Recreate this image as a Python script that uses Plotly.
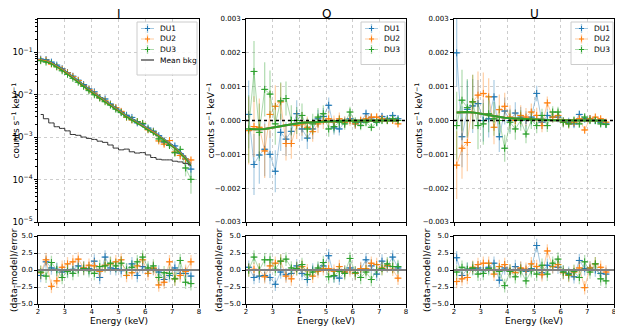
import numpy as np
import plotly.graph_objects as go

# energy bins (keV): centres and half widths
energy = [2.1, 2.3, 2.5, 2.7, 2.9, 3.1, 3.3, 3.5, 3.7, 3.9, 4.1, 4.3, 4.5, 4.7, 4.9,
          5.1, 5.3, 5.5, 5.7, 5.9, 6.1, 6.3, 6.5, 6.7, 6.9, 7.1, 7.3, 7.5, 7.7]
half_width = [0.1] * len(energy)

# --- Stokes I (counts s^-1 keV^-1) ---
I_model_DU1 = [0.0693, 0.0651, 0.0578, 0.0494, 0.0410, 0.0332, 0.0270, 0.0214, 0.0170, 0.0135,
               0.0110, 0.0089, 0.0072, 0.0059, 0.0048, 0.0039, 0.00326, 0.00273, 0.00231, 0.00195,
               0.00163, 0.00135, 0.00112, 0.00091, 0.00075, 0.00059, 0.00045, 0.00034, 0.00023]
I_model_DU2 = [0.066, 0.062, 0.055, 0.047, 0.039, 0.0316, 0.0257, 0.0204, 0.0162, 0.0129,
               0.0105, 0.0085, 0.0069, 0.0056, 0.0046, 0.0037, 0.0031, 0.0026, 0.0022, 0.00186,
               0.00155, 0.00129, 0.00107, 0.00087, 0.00071, 0.00056, 0.00043, 0.00032, 0.00022]
I_model_DU3 = [0.0634, 0.0595, 0.0528, 0.0451, 0.0374, 0.0303, 0.0247, 0.0196, 0.0156, 0.0124,
               0.0101, 0.0082, 0.0066, 0.0054, 0.0044, 0.00355, 0.00298, 0.0025, 0.00211, 0.00179,
               0.00149, 0.00124, 0.00103, 0.00084, 0.00068, 0.00054, 0.00041, 0.00031, 0.00021]
I_DU1 = [0.0682, 0.0667, 0.0581, 0.0495, 0.0407, 0.0331, 0.0271, 0.0218, 0.0172, 0.0136,
         0.0116, 0.00846, 0.00788, 0.00599, 0.00485, 0.00388, 0.00326, 0.00290, 0.00216, 0.00203,
         0.00163, 0.00138, 0.00108, 0.000757, 0.000666, 0.000618, 0.000410, 0.000303, 0.000176]
I_DU2 = [0.0655, 0.0639, 0.0524, 0.0455, 0.0394, 0.0323, 0.0266, 0.0214, 0.0164, 0.0132,
         0.01075, 0.00842, 0.00714, 0.00585, 0.00490, 0.00403, 0.00294, 0.00253, 0.00231, 0.00210,
         0.00148, 0.00133, 0.000811, 0.000682, 0.000829, 0.000444, 0.000368, 0.000306, 0.000289]
I_DU3 = [0.0630, 0.0584, 0.0540, 0.0451, 0.0364, 0.0301, 0.0243, 0.0196, 0.0157, 0.0124,
         0.0099, 0.00838, 0.00680, 0.00567, 0.00455, 0.00376, 0.00298, 0.00257, 0.00231, 0.00208,
         0.00153, 0.00131, 0.000905, 0.000800, 0.000632, 0.000428, 0.000513, 0.000187, 0.000101]
I_relerr = [0.02, 0.02, 0.02, 0.02, 0.025, 0.025, 0.03, 0.03, 0.035, 0.035, 0.04, 0.045, 0.05, 0.05,
            0.055, 0.06, 0.065, 0.07, 0.08, 0.085, 0.09, 0.10, 0.11, 0.12, 0.14, 0.16, 0.18, 0.22, 0.26]
bkg = [3.4e-3, 2.7e-3, 2.15e-3, 1.75e-3, 1.6e-3, 1.4e-3, 1.15e-3, 1.1e-3, 1.0e-3, 9.3e-4,
       8.8e-4, 8.0e-4, 7.5e-4, 6.5e-4, 5.5e-4, 5.0e-4, 5.2e-4, 4.5e-4, 4.2e-4, 4.3e-4,
       3.8e-4, 3.3e-4, 3.0e-4, 2.9e-4, 2.9e-4, 2.7e-4, 2.6e-4, 2.4e-4, 2.2e-4]

# --- Stokes Q and U (units of 1e-3 counts s^-1 keV^-1) ---
Q_DU1 = [0.18, -1.30, -1.02, -0.85, -1.00, -1.50, -0.35, -0.55, -0.32, 0.20, -0.25, -0.52, -0.25, 0.05, 0.12,
         0.45, -0.22, -0.25, -0.05, 0.05, -0.10, -0.05, 0.20, 0.08, -0.05, 0.12, 0.05, 0.15, 0.05]
Q_DU2 = [-0.30, -0.18, -0.20, -0.90, 0.18, 0.42, 0.55, -0.68, -0.68, -0.15, -0.10, -0.20, -0.33, -0.10, 0.00,
         0.05, -0.05, 0.05, -0.05, 0.00, -0.10, 0.00, 0.05, 0.10, 0.10, 0.05, 0.00, 0.00, -0.10]
Q_DU3 = [-0.25, 1.45, -0.35, 0.92, 0.78, -0.10, 0.58, 0.65, 0.00, 0.00, 0.15, -0.25, -0.10, 0.10, 0.20,
         -0.25, -0.18, -0.05, -0.10, 0.25, -0.05, -0.15, -0.05, -0.20, -0.05, 0.00, 0.00, 0.05, 0.00]
Q_model = [-0.25, -0.26, -0.26, -0.25, -0.23, -0.20, -0.17, -0.14, -0.11, -0.09, -0.07, -0.06, -0.05, -0.04, -0.03,
           -0.025, -0.02, -0.015, -0.01, -0.01, -0.005, -0.005, 0, 0, 0, 0, 0, 0, 0]
U_DU1 = [2.00, -0.48, 0.33, 0.43, 0.50, 0.00, 0.05, 0.70, -0.48, 0.28, 0.00, 0.22, 0.10, 0.00, 0.10,
         0.80, -0.05, 0.15, 0.10, 0.10, -0.05, -0.05, -0.10, 0.18, 0.05, 0.05, 0.00, -0.05, -0.10]
U_DU2 = [-1.32, -0.82, -0.65, 0.55, 0.75, 0.80, 0.70, -0.20, 0.32, 0.42, 0.10, 0.00, 0.15, 0.10, 0.25,
         0.15, -0.15, 0.52, 0.10, 0.15, -0.05, -0.10, -0.05, 0.05, -0.28, 0.05, 0.10, 0.05, -0.05]
U_DU3 = [-0.15, 0.60, 0.38, 0.55, -0.15, -0.10, 0.20, 0.05, 0.00, -0.82, -0.05, -0.25, 0.00, -0.40, 0.00,
         -0.15, 0.15, -0.15, 0.25, 0.25, -0.05, -0.10, 0.00, -0.10, 0.10, 0.00, 0.00, -0.10, -0.12]
U_model = [0.24, 0.25, 0.25, 0.24, 0.22, 0.19, 0.16, 0.13, 0.10, 0.08, 0.07, 0.06, 0.05, 0.04, 0.03,
           0.025, 0.02, 0.015, 0.01, 0.01, 0.005, 0.005, 0, 0, 0, 0, 0, 0, 0]
QU_err = [1.0, 0.9, 0.85, 0.8, 0.7, 0.62, 0.55, 0.5, 0.45, 0.4, 0.35, 0.32, 0.3, 0.27, 0.25,
          0.23, 0.2, 0.19, 0.17, 0.16, 0.15, 0.14, 0.13, 0.12, 0.12, 0.11, 0.11, 0.1, 0.1]

# --- residuals (data-model)/error ---
rI_DU1 = [-0.8, 1.2, 0.3, 0.1, -0.3, -0.1, 0.1, 0.6, 0.3, 0.2, 1.3, -1.1, 1.9, 0.3, 0.2,
          -0.1, 0.0, 0.9, -0.8, 0.5, 0.0, 0.2, -0.3, -1.4, -0.8, 0.3, -0.5, -0.5, -0.9]
rI_DU2 = [-0.4, 1.5, -2.4, -1.6, 0.4, 0.9, 1.2, 1.6, 0.3, 0.7, 0.6, -0.2, 0.7, 0.9, 1.2,
          1.5, -0.8, -0.4, 0.6, 1.5, -0.5, 0.3, -2.2, -1.8, 1.2, -1.3, -0.8, -0.2, 1.2]
rI_DU3 = [-0.3, -0.9, 1.1, 0.0, -1.1, -0.2, -0.5, 0.0, 0.2, -0.1, -0.5, 0.5, 0.6, 1.0, 0.6,
          1.0, 0.0, 0.4, 1.2, 1.9, 0.3, 0.6, -1.1, -0.4, -0.5, -1.3, 1.4, -1.8, -2.0]
rQ_DU1 = [0.4, -1.1, -0.9, -0.8, -1.1, -2.1, -0.3, -0.7, -0.5, 0.6, -0.5, -1.4, 0.0, 0.1, 0.6,
          2.1, -0.9, -1.2, -0.3, 0.3, -0.5, 0.1, 1.5, 0.6, -0.6, 1.3, 0.6, 1.9, 0.3]
rQ_DU2 = [0.0, 0.1, 0.0, -1.0, 0.6, 1.0, 1.3, -0.9, -1.3, 0.2, 0.5, -0.1, -0.9, -0.2, 0.2,
          0.2, -0.2, 0.5, -0.3, 0.0, -0.5, 0.2, 0.2, 1.0, 0.8, 0.3, 0.7, 0.1, -1.2]
rQ_DU3 = [0.0, 1.9, 0.0, 1.5, 1.5, 0.1, 1.3, 1.6, 0.3, 0.2, 0.8, -0.7, -0.3, 0.3, 1.1,
          -1.0, -0.8, -0.2, -0.5, 1.7, -0.4, -1.1, -0.3, -1.4, 0.0, 0.2, 0.9, 0.5, 0.5]
rU_DU1 = [1.8, -0.8, 0.1, 0.2, 0.3, -0.1, 0.4, 1.0, -1.5, 0.3, -0.2, 0.5, 0.2, -0.2, 0.2,
          3.6, -0.4, 0.7, 0.5, 0.4, -0.3, -0.5, -1.0, 1.4, 0.2, 0.3, 0.0, -0.5, -0.6]
rU_DU2 = [-1.7, -1.3, -1.1, 0.4, 0.8, 1.0, 1.0, -0.6, 0.5, 0.8, -0.1, -0.4, 0.3, 0.1, 0.9,
          0.5, -0.7, 2.8, 0.5, 0.8, -0.4, -0.8, -0.3, 0.3, -2.6, 0.3, 0.9, 0.4, -0.3]
rU_DU3 = [-0.3, 0.4, 0.1, 0.3, -0.6, -0.5, 0.2, 0.0, -0.2, -2.3, -0.2, -1.0, -0.1, -1.6, -0.1,
          -0.6, 0.7, -0.6, 1.0, 1.6, -0.3, -0.7, -0.2, -1.1, 1.2, -0.3, 0.9, -1.3, -1.6]
resid_err = [1.0] * len(energy)

units = ['DU1', 'DU2', 'DU3']
colors = {'DU1': (31, 119, 180), 'DU2': (255, 127, 14), 'DU3': (44, 160, 44)}


def rgba(c, a):
    return 'rgba(%d,%d,%d,%s)' % (c[0], c[1], c[2], a)


fig = go.Figure()


def add_data(y, err, du, xa, ya):
    c = colors[du]
    fig.add_trace(go.Scatter(
        x=energy, y=y, mode='lines+markers', name=du, showlegend=False,
        line=dict(color=rgba(c, 0.4), width=1),
        marker=dict(symbol='cross-thin', size=5, color=rgba(c, 1), line=dict(width=1, color=rgba(c, 1))),
        error_y=dict(type='data', array=err, color=rgba(c, 0.35), thickness=1.3, width=0),
        error_x=dict(type='data', array=half_width, color=rgba(c, 0.8), thickness=1, width=0),
        xaxis=xa, yaxis=ya))


def add_model(y, du, xa, ya, width):
    fig.add_trace(go.Scatter(x=energy, y=y, mode='lines', showlegend=False,
                             line=dict(color=rgba(colors[du], 1), width=width),
                             xaxis=xa, yaxis=ya, hoverinfo='skip'))


# I panel
I_data = {'DU1': (I_DU1, I_model_DU1), 'DU2': (I_DU2, I_model_DU2), 'DU3': (I_DU3, I_model_DU3)}
for du, (d, m) in I_data.items():
    add_data(d, list(np.array(m) * np.array(I_relerr)), du, 'x', 'y')
for du, (d, m) in I_data.items():
    add_model(m, du, 'x', 'y', 1.3)
fig.add_trace(go.Scatter(x=energy, y=bkg, mode='lines', name='Mean bkg', showlegend=False,
                         line=dict(color='#333333', width=1, shape='hvh'), xaxis='x', yaxis='y'))

# Q and U panels
Q_err = list(np.array(QU_err) * 1e-3)
for du, d in zip(units, [Q_DU1, Q_DU2, Q_DU3]):
    add_data(list(np.array(d) * 1e-3), Q_err, du, 'x2', 'y2')
for du, d in zip(units, [U_DU1, U_DU2, U_DU3]):
    add_data(list(np.array(d) * 1e-3), Q_err, du, 'x3', 'y3')
for du in units:
    add_model(list(np.array(Q_model) * 1e-3), du, 'x2', 'y2', 2)
    add_model(list(np.array(U_model) * 1e-3), du, 'x3', 'y3', 2)

# residual panels
for du, rI, rQ, rU in zip(units, [rI_DU1, rI_DU2, rI_DU3], [rQ_DU1, rQ_DU2, rQ_DU3],
                          [rU_DU1, rU_DU2, rU_DU3]):
    add_data(rI, resid_err, du, 'x4', 'y4')
    add_data(rQ, resid_err, du, 'x5', 'y5')
    add_data(rU, resid_err, du, 'x6', 'y6')

# the page puts the figure 8 px in from the top-left corner of the window
OFF = 8
W, H = 623 - OFF, 332 - OFF


def px(x):
    return (x - OFF) / W


def py(y):
    return 1 - (y - OFF) / H


xdom = [(px(38), px(199)), (px(246), px(406)), (px(454), px(614))]
ydom_main = (py(222), py(19))
ydom_res = (py(304), py(236))

axis_common = dict(showline=True, linecolor='black', linewidth=1, mirror=True, automargin=False,
                   ticks='outside', ticklen=3, tickcolor='black', tickwidth=0.8,
                   showgrid=True, gridcolor='#cdcdcd', griddash='dot', gridwidth=1,
                   zeroline=False, tickfont=dict(size=7, color='black'))

layout = dict(width=W, height=H, margin=dict(l=0, r=0, t=0, b=0, autoexpand=False),
              template='none', plot_bgcolor='white', paper_bgcolor='white',
              font=dict(family='DejaVu Sans', color='black'), showlegend=False)

for i in range(3):
    main_x = 'xaxis' if i == 0 else 'xaxis%d' % (i + 1)
    res_x = 'xaxis%d' % (i + 4)
    layout[main_x] = dict(axis_common, domain=xdom[i], range=[2, 8], dtick=1,
                          showticklabels=False, anchor='y' if i == 0 else 'y%d' % (i + 1))
    layout[res_x] = dict(axis_common, domain=xdom[i], range=[2, 8], dtick=1,
                         ticklabelstandoff=-2, anchor='y%d' % (i + 4))
    layout['yaxis%d' % (i + 4)] = dict(axis_common, domain=ydom_res, range=[-5, 5], dtick=2.5,
                                       tickformat='.1f', anchor='x%d' % (i + 4))

layout['yaxis'] = dict(axis_common, domain=ydom_main, type='log', range=[-5, -0.22], dtick=1,
                       exponentformat='power', anchor='x',
                       minor=dict(ticks='outside', ticklen=2, tickcolor='black', showgrid=False))
for k in (2, 3):
    layout['yaxis%d' % k] = dict(axis_common, domain=ydom_main, range=[-0.003, 0.003], dtick=0.001,
                                 tickformat='.3f', anchor='x%d' % k)

fig.update_layout(**layout)

# zero lines
for k in (2, 3):
    fig.add_shape(type='line', xref='x%d domain' % k, yref='y%d' % k, x0=0, x1=1, y0=0, y1=0,
                  line=dict(color='black', width=1.3, dash='dot'))
for k in (4, 5, 6):
    fig.add_shape(type='line', xref='x%d domain' % k, yref='y%d' % k, x0=0, x1=1, y0=0, y1=0,
                  line=dict(color='#808080', width=2.2))


# legends, drawn in pixel positions of the window
def seg(x0, y0, x1, y1, color, width):
    fig.add_shape(type='line', xref='paper', yref='paper', x0=px(x0), y0=py(y0), x1=px(x1), y1=py(y1),
                  line=dict(color=color, width=width))


def text(s, x, y, size, angle=0, xanchor='center'):
    fig.add_annotation(text=s, x=px(x), y=py(y), xref='paper', yref='paper', showarrow=False,
                       xanchor=xanchor, yanchor='middle', textangle=angle, font=dict(size=size))


def legend(x0, x1, entries):
    n = len(entries)
    fig.add_shape(type='rect', xref='paper', yref='paper', x0=px(x0), x1=px(x1),
                  y0=py(22), y1=py(22 + 11 + 10.5 * n), fillcolor='rgba(255,255,255,0.85)',
                  line=dict(color='#cccccc', width=1))
    for j, name in enumerate(entries):
        yc = 28.5 + 10.5 * j
        lx0, lx1 = x0 + 4, x0 + 17
        xc = (lx0 + lx1) / 2
        if name in colors:
            c = colors[name]
            seg(lx0, yc, lx1, yc, rgba(c, 0.4), 1)
            seg(xc, yc - 4.5, xc, yc + 4.5, rgba(c, 0.4), 1.3)
            seg(xc - 2.5, yc, xc + 2.5, yc, rgba(c, 1), 1)
            seg(xc, yc - 2.5, xc, yc + 2.5, rgba(c, 1), 1)
        else:
            seg(lx0, yc, lx1, yc, '#333333', 1.2)
        text(name, lx1 + 4, yc, 7.5, xanchor='left')


legend(137, 197, units + ['Mean bkg'])
legend(361, 405, units)
legend(571, 613, units)

# titles and axis labels
ylab = 'counts s<sup>\u22121</sup> keV<sup>\u22121</sup>'
for (x0, x1), t in zip([(38, 199), (246, 406), (454, 614)], ['I', 'Q', 'U']):
    text(t, (x0 + x1) / 2, 14, 12)
    text('Energy (keV)', (x0 + x1) / 2, 321, 9)
for xpix in (15, 210, 418):
    text(ylab, xpix, 120.5, 9, angle=-90)
for xpix in (14, 219, 427):
    text('(data-model)/error', xpix, 270, 9, angle=-90)

fig.write_html("out.html")
